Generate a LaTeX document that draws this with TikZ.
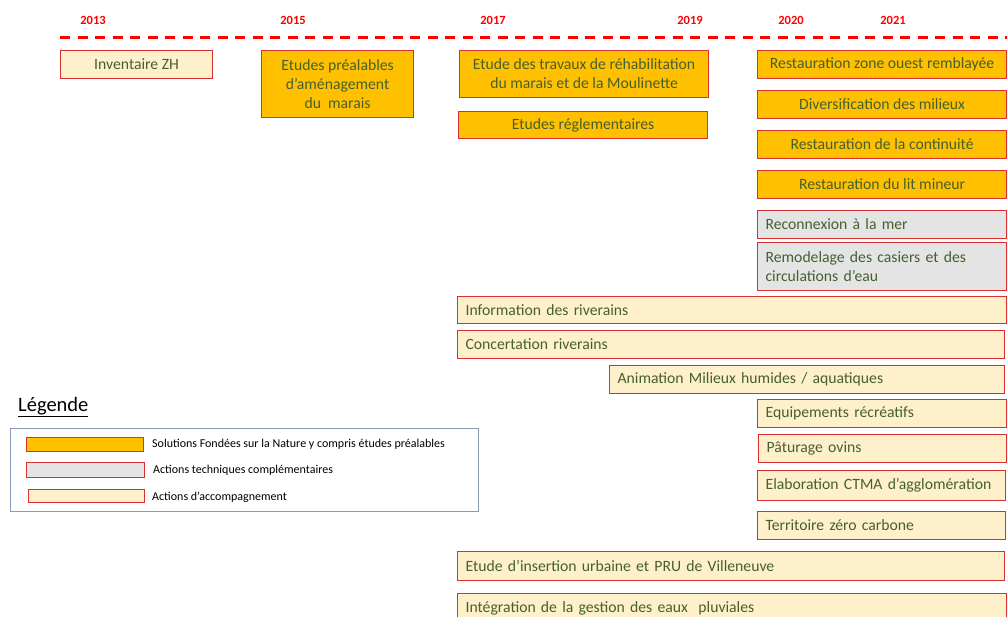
\documentclass[tikz,border=0pt]{standalone}
\usepackage{fontspec}
\setmainfont{Carlito}
\definecolor{sfnfill}{HTML}{FFC000}
\definecolor{techfill}{HTML}{E4E4E4}
\definecolor{accfill}{HTML}{FFF0CC}
\definecolor{boxline}{HTML}{D83030}
\definecolor{boxtext}{HTML}{45602F}
\definecolor{legline}{HTML}{8A9AB4}
\begin{document}
\begin{tikzpicture}
  [x=1pt,y=-1pt,
   every node/.style={inner sep=0pt},
   act/.style={draw=boxline,line width=1.2pt,anchor=north west,text=boxtext,
     font=\fontsize{15.7}{19}\selectfont},
   sfn/.style={act,fill=sfnfill,align=center},
   tech/.style={act,fill=techfill,align=left,inner xsep=8pt},
   accomp/.style={act,fill=accfill,align=left,inner xsep=8pt},
   year/.style={text=red,font=\fontsize{12.5}{14}\selectfont\bfseries},
   swatch/.style={draw=boxline,line width=1pt,anchor=north west},
   legtext/.style={anchor=west,font=\fontsize{12}{14}\selectfont}]
  \useasboundingbox (0,0) rectangle (1007,617);

  % timeline
  \node[year] (y2013) at (93,20)  {2013};
  \node[year] (y2015) at (293,20) {2015};
  \node[year] (y2017) at (493,20) {2017};
  \node[year] (y2019) at (690,20) {2019};
  \node[year] (y2020) at (791,20) {2020};
  \node[year] (y2021) at (893,20) {2021};
  \coordinate (tstart) at (60,38);
  \coordinate (tend) at (1007,38);
  \draw[red,line width=3pt,dash pattern=on 10pt off 7.5pt] (tstart) -- (tend);

  % first column
  \node[act,fill=accfill,align=center,minimum width=152,minimum height=28] (inv) at (60,50) {Inventaire ZH};
  \node[sfn,minimum width=152,minimum height=67] (prea) at (261,50)
    {Etudes préalables\\d’aménagement\\du\ \ marais};
  \node[sfn,minimum width=249,minimum height=47] (trav) at (459,50)
    {Etude des travaux de réhabilitation\\du marais et de la Moulinette};
  \node[sfn,minimum width=249,minimum height=27] (regl) at (458,111) {Etudes réglementaires};

  % 2020 onwards
  \node[sfn,minimum width=249,minimum height=28] (ouest) at (757,50)  {Restauration zone ouest remblayée};
  \node[sfn,minimum width=249,minimum height=28] (diver) at (757,90)  {Diversification des milieux};
  \node[sfn,minimum width=249,minimum height=28] (cont)  at (757,130) {Restauration de la continuité};
  \node[sfn,minimum width=249,minimum height=28] (lit)   at (757,170) {Restauration du lit mineur};
  \node[tech,text width=233,minimum height=28] (mer)  at (757,210) {Reconnexion à la mer};
  \node[tech,text width=233,minimum height=48] (casi) at (757,242)
    {Remodelage des casiers et des\\circulations d’eau};

  % accompagnement
  \node[accomp,text width=533,minimum height=27] (info)  at (457,296) {Information des riverains};
  \node[accomp,text width=531,minimum height=28] (conc)  at (457,330) {Concertation riverains};
  \node[accomp,text width=379,minimum height=28] (anim)  at (609,365) {Animation Milieux humides / aquatiques};
  \node[accomp,text width=233,minimum height=28] (equi)  at (757,399) {Equipements récréatifs};
  \node[accomp,text width=232,minimum height=28] (patu)  at (758,434) {Pâturage ovins};
  \node[accomp,text width=232,minimum height=30] (ctma)  at (757,470) {Elaboration CTMA d’agglomération};
  \node[accomp,text width=232,minimum height=28] (terr)  at (757,511) {Territoire zéro carbone};
  \node[accomp,text width=531,minimum height=29] (pru)   at (457,551) {Etude d’insertion urbaine et PRU de Villeneuve};
  \node[accomp,text width=533,minimum height=29] (pluv)  at (457,593) {Intégration de la gestion des eaux\ \ pluviales};

  % legende
  \node[anchor=west,font=\fontsize{20.5}{24}\selectfont] (leg) at (18,407) {\underline{Légende}};
  \draw[legline,line width=1pt] (10,429) rectangle (478,511);
  \node[swatch,fill=sfnfill,minimum width=117,minimum height=14] (sw1) at (26,437) {};
  \node[swatch,fill=techfill,minimum width=118,minimum height=15] (sw2) at (26,462) {};
  \node[swatch,fill=accfill,minimum width=116,minimum height=13] (sw3) at (28,489) {};
  \node[legtext] (l1) at (152,444) {Solutions\ Fondées\ sur la Nature y compris études préalables};
  \node[legtext] (l2) at (153,470) {Actions techniques\ complémentaires};
  \node[legtext] (l3) at (152,497) {Actions d’accompagnement};
\end{tikzpicture}
\end{document}
